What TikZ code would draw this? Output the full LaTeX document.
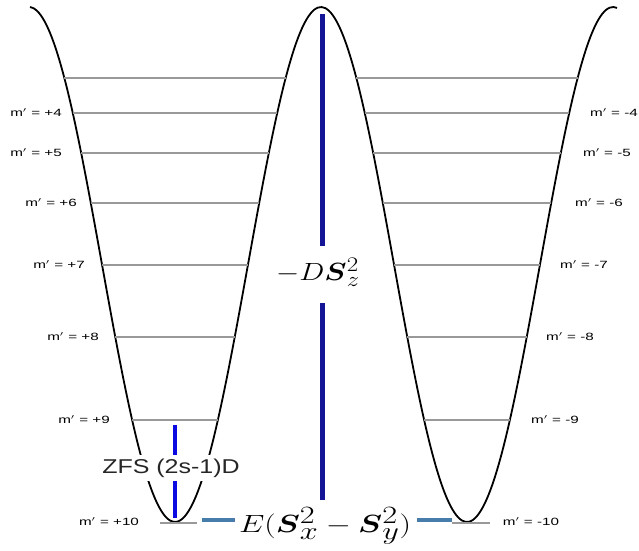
\documentclass[tikz,border=0pt]{standalone}
\usepackage{fontspec}
\usepackage{amsmath,amssymb}
\usepackage{graphicx}
\setsansfont{Liberation Sans}
\usetikzlibrary{positioning}

\definecolor{darkblue}{RGB}{20,20,150}
\definecolor{zfsblue}{RGB}{10,10,225}
\definecolor{barblue}{RGB}{70,125,170}
\newcommand{\mlab}[1]{\scalebox{1.45}[1]{m$'$ = #1}}

\begin{document}
\begin{tikzpicture}[x=1pt, y=-1pt,
    well/.style={black, line width=1.8pt},
    level/.style={gray!80, line width=1.6pt},
    lbl/.style={font=\fontsize{10.5}{12}\sffamily, inner sep=0pt}]
    \useasboundingbox (0,0) rectangle (639,550);

    % Double well
    \draw[well, smooth, domain=30:617, samples=160] plot (\x, {264.5+257.5*cos(1.232877*(\x-175))});

    % Levels
    \foreach \y in {78,113,153,203,265,337,420} {
        \pgfmathsetmacro\dx{acos((\y-264.5)/257.5)/1.232877}
        \draw[level] (175-\dx,\y) -- (175+\dx,\y);
        \draw[level] (467-\dx,\y) -- (467+\dx,\y);
    }
    \draw[level] (160,523) -- (197,523);
    \draw[level] (452,523) -- (490,523);

    % Left labels
    \node[lbl] (mp4) at (36,113) {\mlab{+4}};
    \node[lbl] (mp5) at (36,153) {\mlab{+5}};
    \node[lbl] (mp6) at (51,203) {\mlab{+6}};
    \node[lbl] (mp7) at (59,265) {\mlab{+7}};
    \node[lbl] (mp8) at (73,337) {\mlab{+8}};
    \node[lbl] (mp9) at (84,420) {\mlab{+9}};
    \node[lbl] (mp10) at (109,522) {\mlab{+10}};

    % Right labels
    \node[lbl] (mm4) at (614,113) {\mlab{-4}};
    \node[lbl] (mm5) at (607,153) {\mlab{-5}};
    \node[lbl] (mm6) at (599,203) {\mlab{-6}};
    \node[lbl] (mm7) at (584,265) {\mlab{-7}};
    \node[lbl] (mm8) at (570,337) {\mlab{-8}};
    \node[lbl] (mm9) at (555,420) {\mlab{-9}};
    \node[lbl] (mm10) at (531,522) {\mlab{-10}};

    % Axial term
    \coordinate (top) at (322,14);
    \coordinate (mid1) at (322,246);
    \coordinate (mid2) at (322,303);
    \coordinate (bot) at (322,500);
    \draw[darkblue, line width=5pt] (top) -- (mid1);
    \draw[darkblue, line width=5pt] (mid2) -- (bot);
    \node (dsz) at (318,272) {\fontsize{30}{34}\selectfont\scalebox{1.2}[1]{$-D\boldsymbol{S}_z^2$}};

    % ZFS
    \coordinate (zt) at (175,425);
    \coordinate (zb) at (175,518);
    \draw[zfsblue, line width=4pt] (zt) -- (zb);
    \node[fill=white, inner xsep=1pt, inner ysep=4pt, font=\fontsize{20}{24}\sffamily, text=black!85] (zfs) at (171,468) {\scalebox{1.25}[1]{ZFS (2s-1)D}};

    % Rhombic term
    \node[inner sep=0pt] (exy) at (325,526) {\fontsize{34}{38}\selectfont\scalebox{1.3}[1]{$E(\boldsymbol{S}_x^2-\boldsymbol{S}_y^2)$}};
    \coordinate (b1) at (202,520);
    \coordinate (b2) at (235,520);
    \coordinate (b3) at (417,520);
    \coordinate (b4) at (452,520);
    \draw[barblue, line width=4pt] (b1) -- (b2);
    \draw[barblue, line width=4pt] (b3) -- (b4);
\end{tikzpicture}
\end{document}
